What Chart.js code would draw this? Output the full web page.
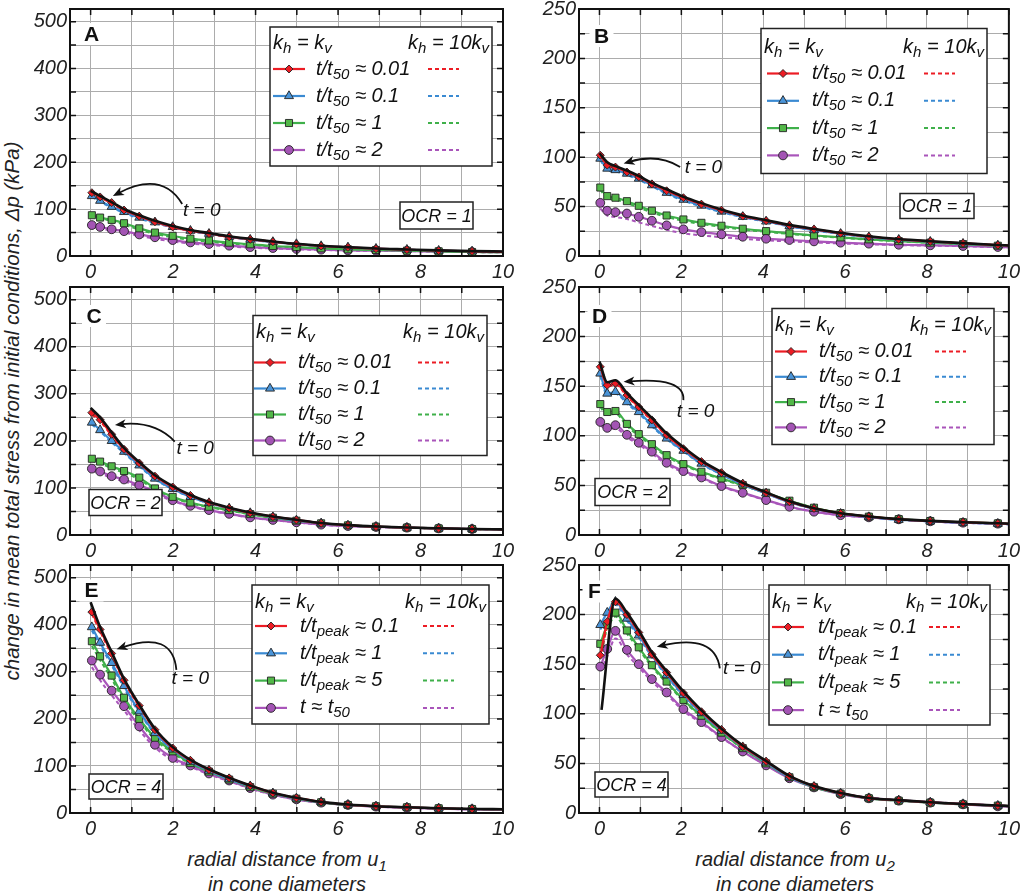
<!DOCTYPE html>
<html><head><meta charset="utf-8">
<script src="https://cdn.jsdelivr.net/npm/chart.js@4.4.1/dist/chart.umd.min.js"></script>
<style>
html,body{margin:0;padding:0;background:#fff;}
body{width:1024px;height:895px;position:relative;overflow:hidden;font-family:"Liberation Sans",Arial,sans-serif;}
canvas{position:absolute;}
.lbl{position:absolute;font-style:italic;font-size:20px;color:#222;white-space:nowrap;line-height:25px;text-align:center;}
sub{font-size:0.75em;vertical-align:-0.3em;line-height:0;}
</style></head><body>
<div class="lbl" style="left:11px;top:411px;font-size:20.5px;transform:translate(-50%,-50%) rotate(-90deg);">change in mean total stress from initial conditions, Δp (kPa)</div>
<div class="lbl" style="left:287px;top:847px;transform:translateX(-50%);">radial distance from u<sub>1</sub><br>in cone diameters</div>
<div class="lbl" style="left:795px;top:847px;transform:translateX(-50%);">radial distance from u<sub>2</sub><br>in cone diameters</div>
<script>
// ---------- DATA ----------
const xU1 = [0.03,0.23,0.51,0.81,1.18,1.56,1.99,2.42,2.87,3.36,3.87,4.42,4.99,5.59,6.24,6.92,7.67,8.44,9.25,10];
const xU2 = [0.02,0.19,0.39,0.67,0.96,1.28,1.64,2.05,2.49,2.98,3.5,4.07,4.64,5.24,5.89,6.58,7.31,8.08,8.88,9.73,10];
const t0xU1 = [0,0.23,0.51,0.81,1.18,1.56,1.99,2.42,2.87,3.36,3.87,4.42,4.99,5.59,6.24,6.92,7.67,8.44,9.25,10];
const t0xU2 = [0,0.19,0.39,0.67,0.96,1.28,1.64,2.05,2.49,2.98,3.5,4.07,4.64,5.24,5.89,6.58,7.31,8.08,8.88,9.73,10];
const t0xF = [0.05,0.39,0.67,0.96,1.28,1.64,2.05,2.49,2.98,3.5,4.07,4.64,5.24,5.89,6.58,7.31,8.08,8.88,9.73,10];
const xTicks = [0,1,2,3,4,5,6,7,8,9,10];
const yTicksL = [0,50,100,150,200,250,300,350,400,450,500];
const yTicksR = [0,25,50,75,100,125,150,175,200,225,250];

// Panel A (OCR=1, u1)
const aT0 = [139,128,115,100,87,75,64,55.5,49,42,36.5,31,26,22,19,16,14,12,10.5,9.5];
const aRed = [135,126,114,98,85,73,62,54,48,41,35.5,30.5,25.6,21.3,18.5,15.6,13.5,11.4,10,9];
const aBlue = [128,118,105,94,82,72,62,54,47.5,41,35,30,25.6,21.3,18.5,15.6,13.5,11.4,10,9];
const aGreen = [87,82,77,70,59,50,43,37,33,28.4,25,21.3,19,16.3,14.2,12.8,11.4,10,8.5,8];
const aPurple = [66,62,57,53,46,40,34,29,25.6,22,19,17,15,13.5,12,11.4,10.7,9.2,8.5,8];
const aRedD = [134,125,112,97,84,72,61.5,53.5,47.5,40.5,35,30,25.3,21,18.3,15.5,13.4,11.3,10,9];
const aBlueD = [126,116,103,92,80,70,61,53,46.5,40.5,34.5,29.5,25.2,21,18.3,15.5,13.4,11.3,10,9];
const aGreenD = [85,80,75,67,56,47,40,34.5,30.5,26.5,23.5,20.3,18.2,15.8,13.9,12.5,11.2,9.9,8.4,8];
const aPurpleD = [63,59,54,50,43,36.5,31,26.5,23.5,20.3,17.8,16,14.3,13,11.7,11.1,10.5,9.1,8.4,8];

// Panel B (OCR=1, u2)
const bT0 = [104,95,91,86.5,81,74,67.5,60,53.5,47,41,36.2,31.5,27.5,23.5,20,17.2,15,13,11.2,10.6];
const bRed = [102,92,90,85,80,73,66,59,52.5,46.4,40.4,35.7,31,27,23,19.5,16.8,14.8,12.8,11,10.5];
const bBlue = [98.6,88.5,87,83.4,78.4,71.7,64,57,51,45,39.7,35,30.3,26.2,22.5,19,16.5,14.5,12.5,10.8,10.3];
const bGreen = [69.3,60.6,59,55.5,50.8,45.8,41,37,33.6,30.6,27.6,25.2,22.9,20.9,18.8,16.8,15.1,13.5,12.1,10.4,10];
const bPurple = [53.8,45.8,44.4,43,39.7,35.7,31,27,24.2,21.9,19.5,17.5,16.2,14.8,13.5,12.5,11.4,10.8,10.1,9.1,8.8];
const bRedD = [101,91,89,84.5,79.5,72.5,65.5,58.5,52,46,40,35.4,30.8,26.8,22.8,19.4,16.7,14.7,12.7,10.9,10.4];
const bBlueD = [97,87,85.5,82,77,70.5,63,56,50,44.3,39.2,34.6,30,26,22.3,18.9,16.4,14.4,12.4,10.7,10.2];
const bGreenD = [67,58.5,57,53.5,49,44,39.5,35.6,32.3,29.5,26.7,24.5,22.3,20.4,18.4,16.5,14.9,13.3,12,10.3,10];
const bPurpleD = [48,41,39.5,37.5,34,30.5,26.5,23,20.8,19,17.3,15.8,14.7,13.7,12.7,11.9,11,10.5,9.9,9,8.7];

// Panel C (OCR=2, u1)
const cT0 = [270,250,218,185,155,127,104,85,70,58,48,39.5,32.5,25.5,21,18,15.8,14.2,12.8,12];
const cRed = [260,245,214,182,153,125,102,84,69,57,47,39,32,25,20.5,17.7,15.6,14,12.7,12];
const cBlue = [239,223,200,177,148,120,98,81,68,56.6,46.7,38,31,25,20.5,17.7,15.6,14,12.7,12];
const cGreen = [162,156,146,136,122,99,81,69,60,53,44.5,36.8,30.4,24.8,20.5,17.7,15.6,14,12.7,12];
const cPurple = [141,135,125,118,106,92,74,62,53,45,37.5,32,27,22,19,17,15.6,14,12.7,12];
const cRedD = [256,242,211,180,151,124,101,83.5,68.5,56.5,46.7,38.8,31.8,24.9,20.4,17.6,15.5,13.9,12.6,12];
const cBlueD = [235,220,197,174,146,118.5,97,80.5,67.5,56.2,46.4,37.8,30.8,24.9,20.4,17.6,15.5,13.9,12.6,12];
const cGreenD = [158,152,142,132,118,96,79,67.5,59,52,44,36.5,30.2,24.7,20.4,17.6,15.5,13.9,12.6,12];
const cPurpleD = [137,131,121,114,102,89,72,60.5,52,44.3,37,31.6,26.8,21.9,18.9,16.9,15.5,13.9,12.6,12];

// Panel D (OCR=2, u2)
const dT0 = [175,154,156,143,131,118,102.5,88.5,75,63.5,52.5,43,34,27,22,18.7,16,14.2,12.9,11.8,11.4];
const dRed = [169.5,151,153,141,129,116,100.7,87,74,62.8,52,42.6,33.6,26.8,21.8,18.5,15.8,14.1,12.8,11.7,11.3];
const dBlue = [162.8,142.6,144.3,134,124,110.7,97.3,85,72,61.4,51,42,33,26.5,21.5,18.1,15.4,13.8,12.4,11.4,11];
const dGreen = [132,124,125,112,101.7,91.6,80.5,71.5,63.8,57,50.3,42.6,34.6,27.5,22.1,18.5,16,14.1,12.8,11.7,11.3];
const dPurple = [114,108,110.7,101,93,84,72.8,64.4,58,49.3,42.6,35.2,28.5,23.5,20,17.8,15.8,13.8,12.4,11.4,11];
const dRedD = [168,150,151.5,140,128,115,100,86.5,73.6,62.5,51.8,42.4,33.5,26.7,21.7,18.4,15.7,14,12.7,11.6,11.2];
const dBlueD = [160,141,142.5,132.5,122.5,109.5,96.5,84.3,71.5,61,50.7,41.8,32.9,26.4,21.4,18,15.3,13.7,12.3,11.3,10.9];
const dGreenD = [129,121.5,122,110,100,90,79.2,70.5,63,56.3,49.8,42.3,34.4,27.4,22,18.4,15.9,14,12.7,11.6,11.2];
const dPurpleD = [111,105.5,107.5,98.5,91,82,71.3,63.2,57,48.6,42.1,34.9,28.3,23.4,19.9,17.7,15.7,13.7,12.3,11.3,10.9];

// Panel E (OCR=4, u1)
const eT0 = [448,395,342,285,230,179,140,113,93,75,58.5,43,32.5,23.7,18,14.4,12.1,10.1,8.6,8.1];
const eRed = [427,390,339,282,228,177,138,112,92,74.5,58,42.5,32,23.4,17.7,14.2,12,10,8.5,8];
const eBlue = [395,362,319,270,216,170,135,109,90,72,57,42,31,23.4,17.7,14.2,12,10,8.5,8];
const eGreen = [365,333,292,245,200,160,131,106,88,71,55,41,30.5,22.7,17,14.2,12,10,8.5,8];
const ePurple = [324,294,260,227,184,145,117,101,84,69,53,39,29,22,17,13.5,11.3,9.2,7.8,7.5];
const eRedD = [423,386,336,279,226,175.5,137,111.5,91.5,74,57.7,42.3,31.9,23.3,17.6,14.1,11.9,9.9,8.4,8];
const eBlueD = [388,356,314,266,213,168,133.5,108,89.3,71.5,56.6,41.8,30.9,23.3,17.6,14.1,11.9,9.9,8.4,8];
const eGreenD = [355,325,285,239,195,156,128,104,86.5,70,54.5,40.5,30.2,22.5,16.9,14.1,11.9,9.9,8.4,8];
const ePurpleD = [310,282,250,218,176,139,113,98,82,67.5,52,38.5,28.7,21.8,16.9,13.4,11.2,9.1,7.7,7.5];

// Panel F (OCR=4, u2)
const fT0 = [104,216,202,184,162,143,122.5,103.5,85,68,52.5,37.5,27.2,20.2,15.2,13,10.8,9.1,7.5,7.1];
const fRed = [159,193,213,200,182,160,141.6,121,102,84,67,52,37,27,20,15,12.8,10.7,9,7.4,7];
const fBlue = [189.6,202,213,196,179,159,139,119,100.7,83,66.4,51,36,26.5,19.8,15,12.8,10.7,9,7.4,7];
const fGreen = [170.5,189.6,202,184,167,149,132.5,114,98,81,65.4,50,36,26,19.5,14.8,12.4,10.4,8.7,7.4,7];
const fPurple = [147.6,165.4,183.6,164.4,150,135,121.5,104.7,91.6,76.5,62,48,35,25.8,19,14.8,12.4,10.4,8.7,6.7,6.5];
const fRedD = [156,188,211,198.5,181,159,141,120.5,101.5,83.5,66.8,51.8,37,27,20,15,12.8,10.7,9,7.4,7];
const fBlueD = [185,196,210,194,177,157.5,138,118,100,82.5,66,51,36,26.5,19.8,15,12.8,10.7,9,7.4,7];
const fGreenD = [165,185,198,181,165,147.5,131,113,97,80.5,65,50,36,26,19.5,14.8,12.4,10.4,8.7,7.4,7];
const fPurpleD = [143,158,176,160,147,132.5,119.5,103,90.5,76,62,48.3,35.5,26.5,19.7,15.5,13,11,9.3,7.5,7];

// Legend texts ([text, isSubscript])
const hdrLeft = [['k',0],['h',1],[' = k',0],['v',1]];
const hdrRight = [['k',0],['h',1],[' = 10k',0],['v',1]];
const labelsT50 = [
  [['t/t',0],['50',1],[' ≈ 0.01',0]],
  [['t/t',0],['50',1],[' ≈ 0.1',0]],
  [['t/t',0],['50',1],[' ≈ 1',0]],
  [['t/t',0],['50',1],[' ≈ 2',0]]
];
const labelsPeak = [
  [['t/t',0],['peak',1],[' ≈ 0.1',0]],
  [['t/t',0],['peak',1],[' ≈ 1',0]],
  [['t/t',0],['peak',1],[' ≈ 5',0]],
  [['t ≈ t',0],['50',1]]
];
const panelLetters = ['A','B','C','D','E','F'];
const ocrTexts = ['OCR = 1','OCR = 1','OCR = 2','OCR = 2','OCR = 4','OCR = 4'];

// ---------- STYLE / LAYOUT ----------
const FONT = '"Liberation Sans", Arial, sans-serif';
const GRID = '#acacac';
const SERIES = [
  {color:'#ec1c24', fill:'#ec1c24', style:'rectRot', r:4},
  {color:'#3a8ad2', fill:'#4a94d8', style:'triangle', r:5.2},
  {color:'#3fb04a', fill:'#52b848', style:'rect', r:5},
  {color:'#a955ba', fill:'#a354b4', style:'circle', r:4.4}
];
const colL = [70, 579], colR = [503, 1011], colCX = [0, 520], colCW = [520, 504];
const rowT = [9, 286.5, 565], rowB = [256, 535, 813];

const panels = [
  {x:xU1, t0x:t0xU1, t0:aT0, solid:[aRed,aBlue,aGreen,aPurple], dash:[aRedD,aBlueD,aGreenD,aPurpleD],
   right:false, labels:labelsT50, col:0, row:0,
   leg:{x:200,y:18,w:222,h:139,hdr:16,row0:42,step:27,sx:3,tx:46,dx:158},
   ocr:{x:330,y:193,w:73,h:27}, letter:{x:21.5,y:25},
   arrow:{tx:2.24,ty:96,s:[2.22,111],c:[1.73,183],e:[0.54,128]}},
  {x:xU2, t0x:t0xU2, t0:bT0, solid:[bRed,bBlue,bGreen,bPurple], dash:[bRedD,bBlueD,bGreenD,bPurpleD],
   right:true, labels:labelsT50, col:1, row:0,
   leg:{x:182,y:19.5,w:226,h:145,hdr:19,row0:45,step:27.3,sx:6,tx:51,dx:163},
   ocr:{x:321,y:184.5,w:74,h:25}, letter:{x:22.5,y:27},
   arrow:{tx:2.08,ty:89.3,s:[1.97,90.1],c:[1.43,104],e:[0.59,93.6]}},
  {x:xU1, t0x:t0xU1, t0:cT0, solid:[cRed,cBlue,cGreen,cPurple], dash:[cRedD,cBlueD,cGreenD,cPurpleD],
   right:false, labels:labelsT50, col:0, row:1,
   leg:{x:183,y:28.5,w:234,h:140,hdr:17,row0:47,step:26,sx:1,tx:45,dx:165},
   ocr:{x:19,y:202.5,w:73,h:26}, letter:{x:24,y:29},
   arrow:{tx:2.08,ty:183,s:[2.04,198.5],c:[1.56,243],e:[0.59,234]}},
  {x:xU2, t0x:t0xU2, t0:dT0, solid:[dRed,dBlue,dGreen,dPurple], dash:[dRedD,dBlueD,dGreenD,dPurpleD],
   right:true, labels:labelsT50, col:1, row:1,
   leg:{x:193,y:21.5,w:222,h:136,hdr:17,row0:43,step:25.3,sx:3,tx:47,dx:163},
   ocr:{x:16,y:191.5,w:75,h:27}, letter:{x:20.5,y:29},
   arrow:{tx:1.89,ty:124,s:[2.05,136],c:[2.09,159.4],e:[0.59,154.4]}},
  {x:xU1, t0x:t0xU1, t0:eT0, solid:[eRed,eBlue,eGreen,ePurple], dash:[eRedD,eBlueD,eGreenD,ePurpleD],
   right:false, labels:labelsPeak, col:0, row:2,
   leg:{x:182,y:20,w:237,h:139,hdr:17,row0:41,step:27.3,sx:3,tx:48,dx:171},
   ocr:{x:19,y:209,w:74,h:25}, letter:{x:21.5,y:25.5},
   arrow:{tx:1.96,ty:285,s:[2.08,304],c:[1.99,389],e:[0.63,348]}},
  {x:xU2, t0x:t0xF, t0:fT0, solid:[fRed,fBlue,fGreen,fPurple], dash:[fRedD,fBlueD,fGreenD,fPurpleD],
   right:true, labels:labelsPeak, col:1, row:2,
   leg:{x:190,y:20,w:221,h:140,hdr:17,row0:42,step:27.7,sx:3,tx:49,dx:160},
   ocr:{x:16,y:207,w:73,h:25}, letter:{x:15.5,y:26.5},
   arrow:{tx:3.02,ty:145,s:[2.94,145.9],c:[2.82,181],e:[1.40,167.6]}}
];

function pts(xs, ys){ return ys.map((v,i)=>({x:xs[i], y:v})); }

function richWidth(ctx, segs, size){
  let w = 0;
  segs.forEach(s=>{ ctx.font = 'italic ' + (s[1]?size*0.75:size) + 'px ' + FONT; w += ctx.measureText(s[0]).width; });
  return w;
}
function drawRich(ctx, segs, x, y, size, align){
  const w = richWidth(ctx, segs, size);
  let cx = align === 'right' ? x - w : x;
  ctx.textAlign = 'left'; ctx.textBaseline = 'middle';
  segs.forEach(s=>{
    const sz = s[1]?size*0.75:size;
    ctx.font = 'italic ' + sz + 'px ' + FONT;
    ctx.fillText(s[0], cx, s[1] ? y + size*0.27 : y);
    cx += ctx.measureText(s[0]).width;
  });
}

const deco = {
  id:'deco',
  afterDraw(chart, args, o){
    const p = o.panel, idx = o.idx;
    const {ctx, chartArea:ca} = chart; const xs = chart.scales.x, ys = chart.scales.y;
    ctx.save();
    // inward ticks
    ctx.strokeStyle = '#111'; ctx.lineWidth = 1.5; ctx.beginPath();
    xs.ticks.forEach(t=>{ const px = xs.getPixelForValue(t.value);
      ctx.moveTo(px, ca.top); ctx.lineTo(px, ca.top+6); ctx.moveTo(px, ca.bottom); ctx.lineTo(px, ca.bottom-6); });
    ys.ticks.forEach(t=>{ const py = ys.getPixelForValue(t.value);
      ctx.moveTo(ca.left, py); ctx.lineTo(ca.left+6, py); ctx.moveTo(ca.right, py); ctx.lineTo(ca.right-6, py); });
    ctx.stroke();
    ctx.lineWidth = 2; ctx.strokeRect(ca.left, ca.top, ca.width, ca.height);

    // arrow "t = 0"
    const a = p.arrow;
    const S = [xs.getPixelForValue(a.s[0]), ys.getPixelForValue(a.s[1])];
    const C = [xs.getPixelForValue(a.c[0]), ys.getPixelForValue(a.c[1])];
    const E = [xs.getPixelForValue(a.e[0]), ys.getPixelForValue(a.e[1])];
    const ang = Math.atan2(E[1]-C[1], E[0]-C[0]);
    ctx.strokeStyle = '#111'; ctx.fillStyle = '#111'; ctx.lineWidth = 1.8;
    ctx.beginPath(); ctx.moveTo(S[0], S[1]);
    ctx.quadraticCurveTo(C[0], C[1], E[0]-6*Math.cos(ang), E[1]-6*Math.sin(ang)); ctx.stroke();
    ctx.beginPath(); ctx.moveTo(E[0], E[1]);
    ctx.lineTo(E[0]-11*Math.cos(ang)+4.5*Math.sin(ang), E[1]-11*Math.sin(ang)-4.5*Math.cos(ang));
    ctx.lineTo(E[0]-8*Math.cos(ang), E[1]-8*Math.sin(ang));
    ctx.lineTo(E[0]-11*Math.cos(ang)-4.5*Math.sin(ang), E[1]-11*Math.sin(ang)+4.5*Math.cos(ang));
    ctx.closePath(); ctx.fill();
    ctx.font = 'italic 19px ' + FONT; ctx.textAlign = 'left'; ctx.textBaseline = 'middle';
    ctx.fillText('t = 0', xs.getPixelForValue(a.tx), ys.getPixelForValue(a.ty));

    // OCR box
    const ob = p.ocr;
    ctx.fillStyle = '#fff'; ctx.fillRect(ca.left+ob.x, ca.top+ob.y, ob.w, ob.h);
    ctx.strokeStyle = '#222'; ctx.lineWidth = 1.5; ctx.strokeRect(ca.left+ob.x, ca.top+ob.y, ob.w, ob.h);
    ctx.fillStyle = '#111'; ctx.font = 'italic 18px ' + FONT; ctx.textAlign = 'center'; ctx.textBaseline = 'middle';
    ctx.fillText(ocrTexts[idx], ca.left+ob.x+ob.w/2, ca.top+ob.y+ob.h/2+1);

    // legend
    const L = p.leg, bx = ca.left+L.x, by = ca.top+L.y;
    ctx.fillStyle = '#fff'; ctx.fillRect(bx, by, L.w, L.h);
    ctx.strokeStyle = '#222'; ctx.lineWidth = 1.5; ctx.strokeRect(bx, by, L.w, L.h);
    ctx.fillStyle = '#111';
    drawRich(ctx, hdrLeft, bx+3, by+L.hdr, 20, 'left');
    drawRich(ctx, hdrRight, bx+L.w-3, by+L.hdr, 20, 'right');
    SERIES.forEach((s,i)=>{
      const ry = by + L.row0 + i*L.step;
      ctx.strokeStyle = s.color; ctx.lineWidth = 2.2; ctx.setLineDash([]);
      ctx.beginPath(); ctx.moveTo(bx+L.sx, ry); ctx.lineTo(bx+L.sx+32, ry); ctx.stroke();
      ctx.fillStyle = s.fill; ctx.strokeStyle = '#222'; ctx.lineWidth = 0.9;
      Chart.helpers.drawPoint(ctx, {pointStyle:s.style, radius:s.r, rotation:0, borderWidth:0.9}, bx+L.sx+16, ry);
      ctx.strokeStyle = s.color; ctx.lineWidth = 2; ctx.setLineDash([4,3]);
      ctx.beginPath(); ctx.moveTo(bx+L.dx, ry); ctx.lineTo(bx+L.dx+31, ry); ctx.stroke();
      ctx.setLineDash([]);
      ctx.fillStyle = '#111';
      drawRich(ctx, p.labels[i], bx+L.tx, ry, 20, 'left');
    });

    // panel letter
    const lx = ca.left+p.letter.x, ly = ca.top+p.letter.y;
    ctx.fillStyle = '#fff'; ctx.fillRect(lx-12, ly-11, 24, 22);
    ctx.fillStyle = '#111'; ctx.font = 'bold 21px ' + FONT; ctx.textAlign = 'center'; ctx.textBaseline = 'middle';
    ctx.fillText(panelLetters[idx], lx, ly+1);
    ctx.restore();
  }
};

panels.forEach((p, idx)=>{
  const cx = colCX[p.col], cw = colCW[p.col], L = colL[p.col], R = colR[p.col];
  const T = rowT[p.row], B = rowB[p.row];
  const cy = T - 16, ch = B + 32 - cy;
  const cv = document.createElement('canvas');
  cv.width = cw; cv.height = ch;
  cv.style.left = cx + 'px'; cv.style.top = cy + 'px';
  cv.style.width = cw + 'px'; cv.style.height = ch + 'px';
  document.body.appendChild(cv);

  const datasets = [];
  datasets.push({data: pts(p.t0x, p.t0), borderColor:'#111', borderWidth:2.6, pointRadius:0,
    cubicInterpolationMode:'monotone', fill:false});
  SERIES.forEach((s,i)=>{
    datasets.push({data: pts(p.x, p.solid[i]), borderColor:s.color, borderWidth:2.2,
      backgroundColor:s.fill, pointBackgroundColor:s.fill, pointBorderColor:'#222', pointBorderWidth:0.9,
      pointStyle:s.style, pointRadius:(c)=> (c.raw && c.raw.x >= 10) ? 0 : s.r,
      cubicInterpolationMode:'monotone', fill:false});
  });
  SERIES.forEach((s,i)=>{
    datasets.push({data: pts(p.x, p.dash[i]), borderColor:s.color, borderWidth:2, borderDash:[4,3],
      pointRadius:0, cubicInterpolationMode:'monotone', fill:false});
  });

  const yT = p.right ? yTicksR : yTicksL;
  const yLab = p.right ? 50 : 100;
  new Chart(cv, {
    type:'line',
    data:{datasets},
    options:{
      responsive:false, animation:false, events:[],
      layout:{padding:{top:T-cy, right:cx+cw-R, left:0, bottom:0}},
      plugins:{legend:{display:false}, tooltip:{enabled:false}, deco:{panel:p, idx}},
      scales:{
        x:{type:'linear', min:-0.5, max:10,
          afterBuildTicks:(s)=>{ s.ticks = xTicks.map(v=>({value:v})); },
          afterFit:(s)=>{ s.height = cy + ch - B; },
          grid:{color:GRID, lineWidth:1, drawTicks:false}, border:{display:false},
          ticks:{autoSkip:false, maxRotation:0, padding:4, color:'#222',
            font:{family:FONT, size:20, style:'italic'},
            callback:(v)=> (v % 2 === 0 ? String(v) : '')}},
        y:{type:'linear', min:0, max: p.right ? 250 : 527,
          afterBuildTicks:(s)=>{ s.ticks = yT.map(v=>({value:v})); },
          afterFit:(s)=>{ s.width = L - cx; },
          grid:{color:GRID, lineWidth:1, drawTicks:false}, border:{display:false},
          ticks:{autoSkip:false, padding:3, color:'#222',
            font:{family:FONT, size:20, style:'italic'},
            callback:(v)=> (v % yLab === 0 ? String(v) : '')}}
      }
    },
    plugins:[deco]
  });
});
</script>
</body></html>
